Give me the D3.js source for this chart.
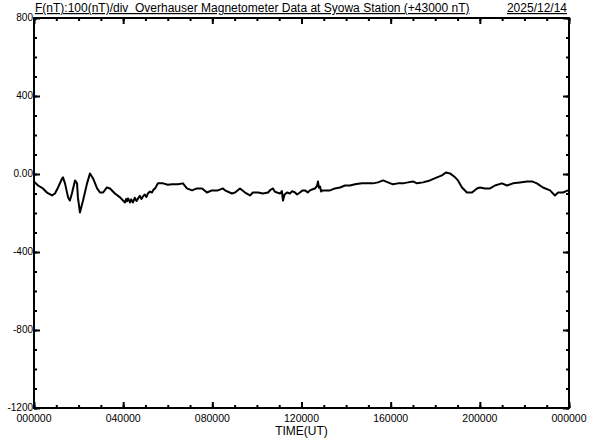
<!DOCTYPE html>
<html>
<head>
<meta charset="utf-8">
<script src="https://cdn.jsdelivr.net/npm/d3@7"></script>
<style>
  body { margin: 0; background: #fff; }
  text { font-family: "Liberation Sans", Arial, sans-serif; fill: #000; white-space: pre; }
</style>
</head>
<body>
<div id="viz-mag"><svg width="592" height="440"></svg></div>
<script>
const W = 592;
const H = 440;
const margin = { top: 18, right: 23, bottom: 32, left: 34 };
const width = W - margin.left - margin.right;
const height = H - margin.top - margin.bottom;

// time of day (hours UT) and F deviation from 43000 nT
const hours = [0.00, 0.04, 0.18, 0.40, 0.58, 0.81, 0.94, 1.08, 1.26, 1.30, 1.39, 1.53, 1.61, 1.70, 1.84, 1.93, 1.97, 2.06, 2.20, 2.38,
  2.51, 2.65, 2.83, 2.96, 3.10, 3.27, 3.41, 3.63, 3.86, 4.08, 4.13, 4.17, 4.22, 4.31, 4.36, 4.44, 4.52, 4.60, 4.67,
  4.75, 4.82, 4.89, 4.97, 5.04, 5.11, 5.20, 5.29, 5.36, 5.43, 5.56, 5.79, 6.00, 6.19, 6.46, 6.68, 6.86, 7.09, 7.31,
  7.54, 7.76, 7.98, 8.25, 8.48, 8.57, 8.88, 9.02, 9.24, 9.47, 9.69, 9.82, 10.05, 10.27, 10.50, 10.60, 10.72, 10.80,
  10.90, 11.04, 11.12, 11.17, 11.24, 11.35, 11.48, 11.58, 11.71, 11.80, 11.93, 12.05, 12.16, 12.28, 12.38, 12.50,
  12.61, 12.70, 12.74, 12.78, 12.83, 12.88, 12.92, 13.05, 13.28, 13.50, 13.73, 13.95, 14.18, 14.40, 14.71, 14.98,
  15.21, 15.43, 15.66, 15.88, 16.10, 16.33, 16.55, 16.78, 17.00, 17.18, 17.45, 17.76, 18.08, 18.30, 18.48, 18.66,
  18.89, 19.02, 19.20, 19.42, 19.65, 19.87, 20.01, 20.23, 20.46, 20.68, 20.99, 21.22, 21.49, 21.80, 22.12, 22.34,
  22.56, 22.83, 23.15, 23.37, 23.51, 23.73, 23.96, 24.00];
const fValues = [-38, -43, -59, -74, -95, -110, -100, -69, -23, -17, -48, -120, -136, -100, -33, -48, -120, -197, -136, -48,
  3, -23, -74, -95, -95, -69, -74, -100, -120, -146, -128, -140, -125, -146, -130, -146, -122, -138, -125,
  -112, -128, -115, -105, -118, -100, -90, -95, -80, -74, -48, -48, -55, -53, -53, -48, -74, -84, -74,
  -74, -95, -84, -84, -74, -84, -100, -95, -74, -95, -110, -95, -95, -100, -95, -82, -74, -90,
  -95, -100, -88, -136, -105, -95, -100, -88, -95, -105, -95, -84, -84, -95, -84, -78,
  -74, -60, -38, -70, -64, -90, -84, -84, -84, -74, -69, -59, -59, -53, -48, -48,
  -48, -43, -33, -43, -53, -48, -48, -43, -38, -48, -43, -33, -17, -7, 8, 3,
  -17, -33, -69, -95, -95, -74, -69, -74, -74, -59, -48, -59, -48, -43, -38, -38,
  -48, -69, -84, -110, -95, -95, -84, -79];

const yMinorTicks = d3.range(-1200, 801, 100);
const yMajorTicks = [800, 400, 0, -400, -800, -1200];
const yTickLabels = ["800", "400", "0.00", "-400", "-800", "-1200"];
const xMinorTicks = d3.range(0, 25, 1);
const xMajorTicks = [0, 4, 8, 12, 16, 20, 24];
const xTickLabels = ["000000", "040000", "080000", "120000", "160000", "200000", "000000"];

const title = "F(nT):100(nT)/div  Overhauser Magnetometer Data at Syowa Station (+43000 nT)";
const dateLabel = "2025/12/14";
const xTitle = "TIME(UT)";

function plotMag() {
    const svg = d3.select("#viz-mag").select("svg");
    const g = svg.append("g")
        .attr("transform", `translate(${margin.left}, ${margin.top})`);

    const x = d3.scaleLinear().domain([0, 24]).range([0, width]);
    const y = d3.scaleLinear().domain([-1200, 800]).range([height, 0]);

    // inward minor ticks on all four sides
    const axes = [
        { ax: d3.axisLeft(y), minor: yMinorTicks, major: yMajorTicks, t: "" },
        { ax: d3.axisRight(y), minor: yMinorTicks, major: yMajorTicks, t: `translate(${width},0)` },
        { ax: d3.axisTop(x), minor: xMinorTicks, major: xMajorTicks, t: "" },
        { ax: d3.axisBottom(x), minor: xMinorTicks, major: xMajorTicks, t: `translate(0,${height})` }
    ];
    axes.forEach(a => {
        g.append("g")
            .attr("transform", a.t)
            .call(a.ax.tickValues(a.minor).tickSizeInner(-3).tickSizeOuter(0).tickFormat(""))
            .call(s => s.select(".domain").remove());
        g.append("g")
            .attr("transform", a.t)
            .call(a.ax.tickValues(a.major).tickSizeInner(-6).tickSizeOuter(0).tickFormat(""))
            .call(s => s.select(".domain").remove());
    });
    g.selectAll(".tick line").attr("stroke", "#000").attr("stroke-width", 2);

    // y labels
    g.append("g")
        .selectAll("text")
        .data(yMajorTicks)
        .enter()
        .append("text")
        .attr("x", -1)
        .attr("y", d => y(d))
        .attr("dy", "0.32em")
        .attr("text-anchor", "end")
        .attr("font-size", "10px")
        .text((d, i) => yTickLabels[i]);

    // x labels
    g.append("g")
        .selectAll("text")
        .data(xMajorTicks)
        .enter()
        .append("text")
        .attr("x", d => x(d))
        .attr("y", height + 14)
        .attr("text-anchor", "middle")
        .attr("font-size", "10.5px")
        .text((d, i) => xTickLabels[i]);

    // frame
    g.append("rect")
        .attr("x", 0).attr("y", 0)
        .attr("width", width).attr("height", height)
        .attr("fill", "none")
        .attr("stroke", "#000")
        .attr("stroke-width", 2);

    // data line
    const line = d3.line()
        .x(d => x(d[0]))
        .y(d => y(d[1]));
    g.append("path")
        .datum(hours.map((h, i) => [h, fValues[i]]))
        .attr("fill", "none")
        .attr("stroke", "#000")
        .attr("stroke-width", 2)
        .attr("stroke-linejoin", "round")
        .attr("d", line);

    // titles
    svg.append("text")
        .attr("x", 35)
        .attr("y", 12)
        .attr("font-size", "12px")
        .attr("text-decoration", "underline")
        .text(title);
    svg.append("text")
        .attr("x", 567)
        .attr("y", 12)
        .attr("text-anchor", "end")
        .attr("font-size", "12px")
        .attr("text-decoration", "underline")
        .text(dateLabel);
    svg.append("text")
        .attr("x", margin.left + width / 2)
        .attr("y", 435)
        .attr("text-anchor", "middle")
        .attr("font-size", "12px")
        .text(xTitle);
}

plotMag();
</script>
</body>
</html>
